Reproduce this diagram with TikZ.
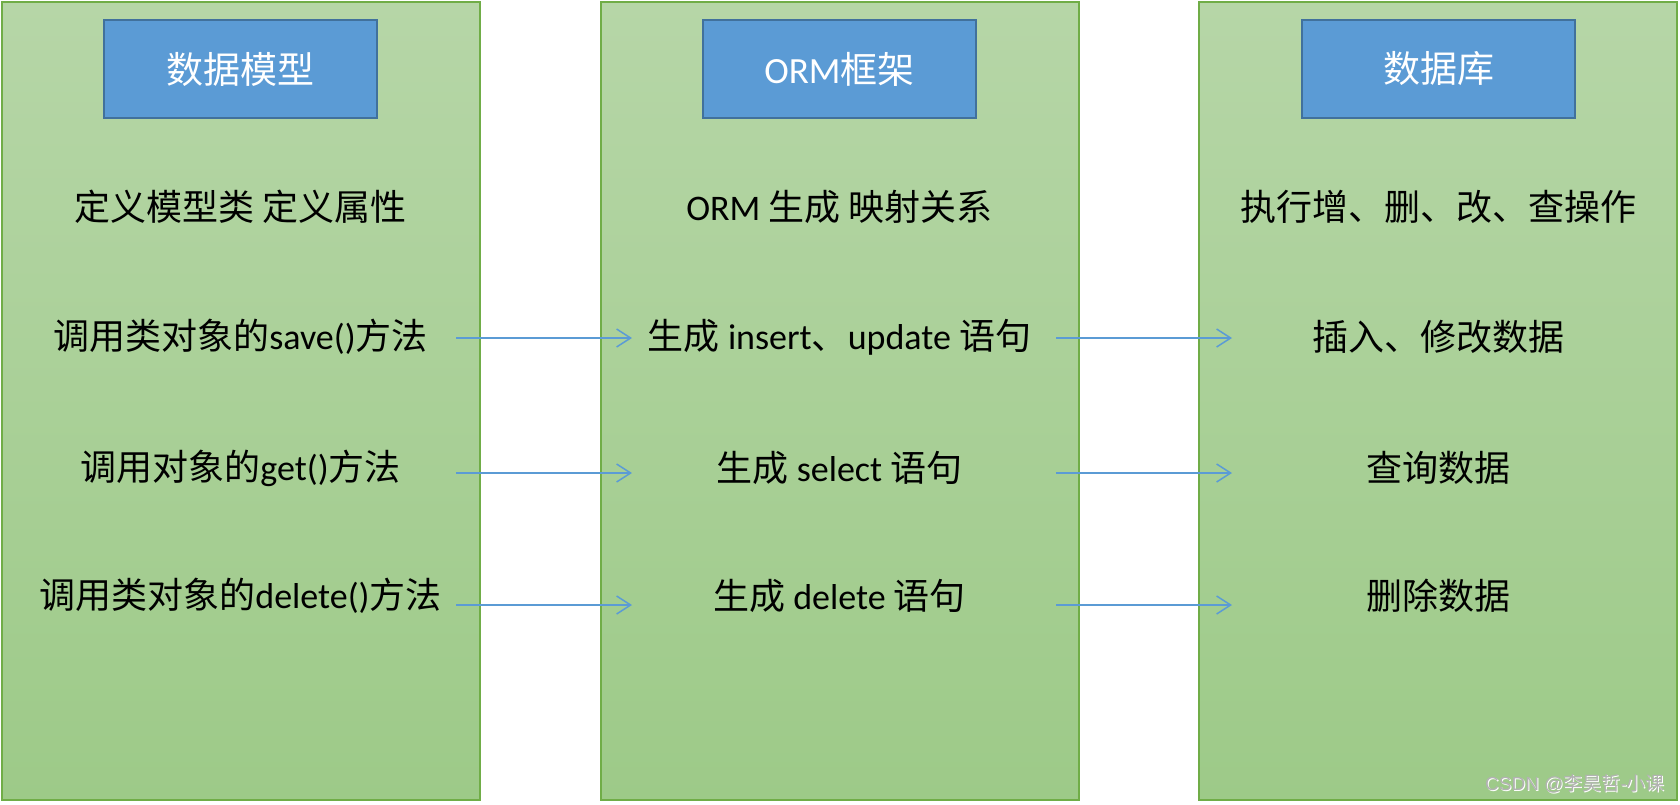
\documentclass[tikz,border=0pt]{standalone}
\usepackage{fontspec}
\setmainfont{Carlito}
\newfontfamily\cjk{Noto Sans CJK SC}
\newfontfamily\wmfont{Liberation Sans}
\usetikzlibrary{arrows.meta}
\definecolor{colborder}{HTML}{70AD47}
\definecolor{coltop}{HTML}{B6D6A7}
\definecolor{colbot}{HTML}{9DCA88}
\definecolor{hdrfill}{HTML}{5B9BD5}
\definecolor{hdrdraw}{HTML}{41719C}
\definecolor{arrowblue}{HTML}{5B9BD5}
\definecolor{wmgray}{HTML}{B2B2B2}
\tikzset{
  colbox/.style={draw=colborder, line width=2pt, top color=coltop, bottom color=colbot,
    minimum width=478pt, minimum height=798pt, inner sep=0pt, outer sep=0pt},
  hdrbox/.style={draw=hdrdraw, fill=hdrfill, line width=1.5pt, minimum width=273pt,
    minimum height=98pt, inner sep=0pt, text=white, font=\fontsize{37}{42}\selectfont},
  rowtext/.style={inner sep=0pt, text=black, font=\fontsize{36}{42}\selectfont},
  flow/.style={draw=arrowblue, line width=1.5pt, -{Straight Barb[length=14pt,width=18pt]}},
  wmark/.style={inner sep=0pt, font=\wmfont\fontsize{19}{22}\selectfont}
}
\begin{document}
\begin{tikzpicture}[x=1pt,y=-1pt]
\useasboundingbox (0,0) rectangle (1680,804);
\fill[white] (0,0) rectangle (1680,804);
% columns
\node[colbox] (colA) at (240.5,401) {};
\node[colbox] (colB) at (839.5,401) {};
\node[colbox] (colC) at (1438,401) {};
% headers
\node[hdrbox] (hA) at (240.5,69) {\cjk 数据模型};
\node[hdrbox] (hB) at (839.5,69) {ORM{\cjk 框架}};
\node[hdrbox] (hC) at (1438.5,69) {\cjk 数据库};
% column A
\node[rowtext] (A1) at (240.5,207) {\cjk 定义模型类 定义属性};
\node[rowtext] (A2) at (240.5,337) {{\cjk 调用类对象的}save(){\cjk 方法}};
\node[rowtext] (A3) at (240.5,468) {{\cjk 调用对象的}get(){\cjk 方法}};
\node[rowtext] (A4) at (240.5,596) {{\cjk 调用类对象的}delete(){\cjk 方法}};
% column B
\node[rowtext] (B1) at (839.5,207) {ORM {\cjk 生成 映射关系}};
\node[rowtext] (B2) at (839.5,337) {{\cjk 生成} insert{\cjk 、}update {\cjk 语句}};
\node[rowtext] (B3) at (839.5,468) {{\cjk 生成} select {\cjk 语句}};
\node[rowtext] (B4) at (839.5,596) {{\cjk 生成} delete {\cjk 语句}};
% column C
\node[rowtext] (C1) at (1438.5,207) {\cjk 执行增、删、改、查操作};
\node[rowtext] (C2) at (1438.5,337) {\cjk 插入、修改数据};
\node[rowtext] (C3) at (1438.5,468) {\cjk 查询数据};
\node[rowtext] (C4) at (1438.5,596) {\cjk 删除数据};
% arrow end points
\coordinate (a2s) at (456,338);  \coordinate (a2e) at (632,338);
\coordinate (a3s) at (456,473);  \coordinate (a3e) at (632,473);
\coordinate (a4s) at (456,605);  \coordinate (a4e) at (632,605);
\coordinate (b2s) at (1056,338); \coordinate (b2e) at (1232,338);
\coordinate (b3s) at (1056,473); \coordinate (b3e) at (1232,473);
\coordinate (b4s) at (1056,605); \coordinate (b4e) at (1232,605);
\draw[flow] (a2s) -- (a2e);
\draw[flow] (a3s) -- (a3e);
\draw[flow] (a4s) -- (a4e);
\draw[flow] (b2s) -- (b2e);
\draw[flow] (b3s) -- (b3e);
\draw[flow] (b4s) -- (b4e);
% watermark
\node[wmark, text=white] (wmshadow) at (1576,785) {CSDN @{\cjk 李昊哲}-{\cjk 小课}};
\node[wmark, text=wmgray] (wm) at (1575,784) {CSDN @{\cjk 李昊哲}-{\cjk 小课}};
\end{tikzpicture}
\end{document}
